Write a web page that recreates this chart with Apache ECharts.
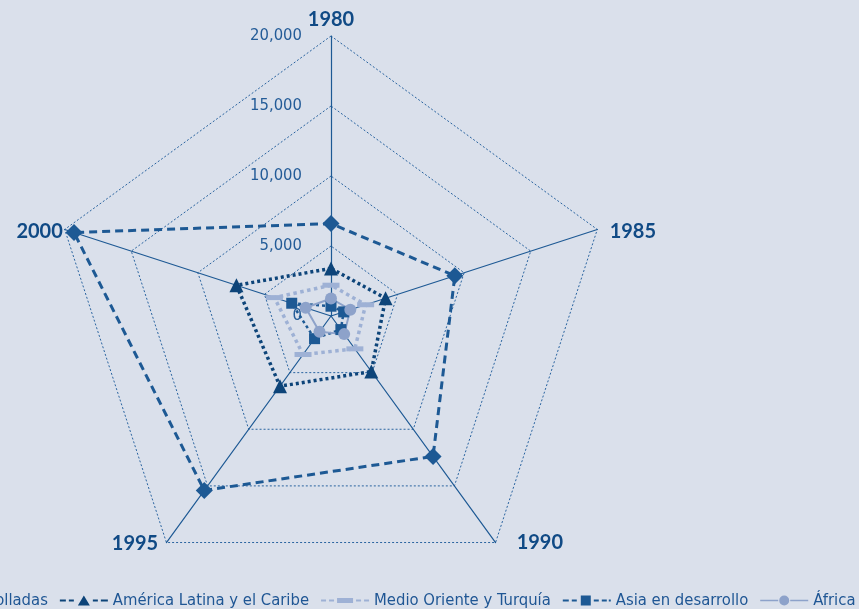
<!DOCTYPE html>
<html>
<head>
<meta charset="utf-8">
<script src="https://cdn.jsdelivr.net/npm/echarts@6/dist/echarts.min.js"></script>
<style>
  html, body { margin: 0; padding: 0; background: #dae0eb; }
  #chart { width: 859px; height: 609px; }
</style>
</head>
<body>
<div id="chart"></div>
<script>
// years around the radar, clockwise from the top
const years = ['1980', '1985', '1990', '1995', '2000']
const tickLabels = ['0', '5,000', '10,000', '15,000', '20,000']

// values per year (same order as years)
const economiasDesarrolladas = [6600, 9300, 12400, 15400, 19300]
const americaLatina = [3400, 4100, 4900, 6200, 7100]
const medioOriente = [2200, 2600, 2900, 3400, 4250]
const asiaDesarrollo = [700, 950, 1200, 2000, 2950]
const africa = [1250, 1450, 1600, 1400, 1900]

const seriesNames = [
  'Economías desarrolladas',
  'América Latina y el Caribe',
  'Medio Oriente y Turquía',
  'Asia en desarrollo',
  'África'
]

const dark = '#1d5994'
const navy = '#0d4479'
const light = '#9eb1d5'
const africaColor = '#8da2ca'
const textDark = '#104a85'
const narrowFont = 'Liberation Sans Narrow, DejaVu Sans Condensed, sans-serif'

// echarts draws the indicators counter-clockwise, so walk the years backwards after the first
const order = [0, 4, 3, 2, 1]
const reorder = arr => order.map(i => arr[i])

// per-year name placement
const nameLayout = {
  '1980': { nameGap: 6 },
  '1985': { nameGap: 13, nameTextStyle: { verticalAlign: 'top', lineHeight: 12 } },
  '1990': { nameGap: 12, nameTextStyle: { verticalAlign: 'bottom', padding: [0, 0, 0, 14] } },
  '1995': { nameGap: 14, nameTextStyle: { verticalAlign: 'bottom' } },
  '2000': { nameGap: 2, nameTextStyle: { verticalAlign: 'top', lineHeight: 6 } }
}

const indicators = reorder(years).map((y, i) => {
  const ind = Object.assign({ name: y, min: 0, max: 20000 }, nameLayout[y])
  if (i === 0) {
    ind.axisLabel = {
      show: true,
      margin: 29,
      color: '#245c98',
      fontSize: 16.5,
      fontFamily: narrowFont,
      formatter: v => tickLabels[Math.round(v / 5000)]
    }
  }
  return ind
})

const legendIcons = [
  'path://M0 5h6v2H0z M9 5h5v2H9z M18 6L24 0L30 6L24 12z M33 5h5v2h-5z M41 5h5v2h-5z M46 5h2v2h-2z',
  'path://M0 5h6v2H0z M9 5h5v2H9z M18 11L24 1L30 11z M33 5h5v2h-5z M41 5h5v2h-5z M46 5h2v2h-2z',
  'path://M0 5h5v2H0z M8 5h5v2H8z M16 3.5h16v5H16z M35 5h5v2h-5z M43 5h5v2h-5z',
  'path://M0 5h6v2H0z M9 5h5v2H9z M18 1h10v10H18z M31 5h5v2h-5z M39 5h5v2h-5z M46 5h2v2h-2z',
  'path://M0 5.2h18v1.6H0z M30 5.2h18v1.6H30z M19 6a5 5 0 1 0 10 0a5 5 0 1 0 -10 0z'
]

const chart = echarts.init(document.getElementById('chart'))

const option = {
  backgroundColor: '#dae0eb',
  animation: false,
  legend: {
    left: -195,
    top: 587,
    width: 1200,
    itemWidth: 48,
    itemHeight: 12,
    itemGap: 12,
    itemStyle: { borderWidth: 0 },
    textStyle: {
      fontSize: 16.5,
      color: '#1f5694',
      fontFamily: narrowFont
    },
    data: seriesNames.map((n, i) => ({ name: n, icon: legendIcons[i] }))
  },
  radar: {
    center: [331, 316],
    radius: 280,
    startAngle: 90,
    splitNumber: 4,
    shape: 'polygon',
    indicator: indicators,
    axisName: {
      color: textDark,
      fontSize: 20,
      fontWeight: 'bold',
      fontFamily: 'Lato, Noto Sans, sans-serif'
    },
    axisLine: { lineStyle: { color: dark, width: 1.2 } },
    axisTick: { show: false },
    axisLabel: { show: false },
    splitLine: { lineStyle: { color: '#2a64a0', width: 1, type: [2, 2] } },
    splitArea: { show: false }
  },
  series: [
    {
      type: 'radar',
      data: [
        {
          name: seriesNames[0],
          value: reorder(economiasDesarrolladas),
          symbol: 'diamond',
          symbolSize: 17,
          itemStyle: { color: dark },
          lineStyle: { color: dark, width: 3, type: [8, 5] }
        },
        {
          name: seriesNames[1],
          value: reorder(americaLatina),
          symbol: 'triangle',
          symbolSize: 14,
          itemStyle: { color: navy },
          lineStyle: { color: navy, width: 3.5, type: [3, 3] }
        },
        {
          name: seriesNames[2],
          value: reorder(medioOriente),
          symbol: 'rect',
          symbolSize: [17, 5],
          itemStyle: { color: light },
          lineStyle: { color: light, width: 3.5, type: [3.5, 3.5] }
        },
        {
          name: seriesNames[3],
          value: reorder(asiaDesarrollo),
          symbol: 'rect',
          symbolSize: 11,
          itemStyle: { color: dark },
          lineStyle: { color: dark, width: 2.5, type: [3, 3] }
        },
        {
          name: seriesNames[4],
          value: reorder(africa),
          symbol: 'circle',
          symbolSize: 12,
          itemStyle: { color: africaColor },
          lineStyle: { color: africaColor, width: 2 }
        }
      ]
    }
  ]
}

chart.setOption(option)
</script>
</body>
</html>
